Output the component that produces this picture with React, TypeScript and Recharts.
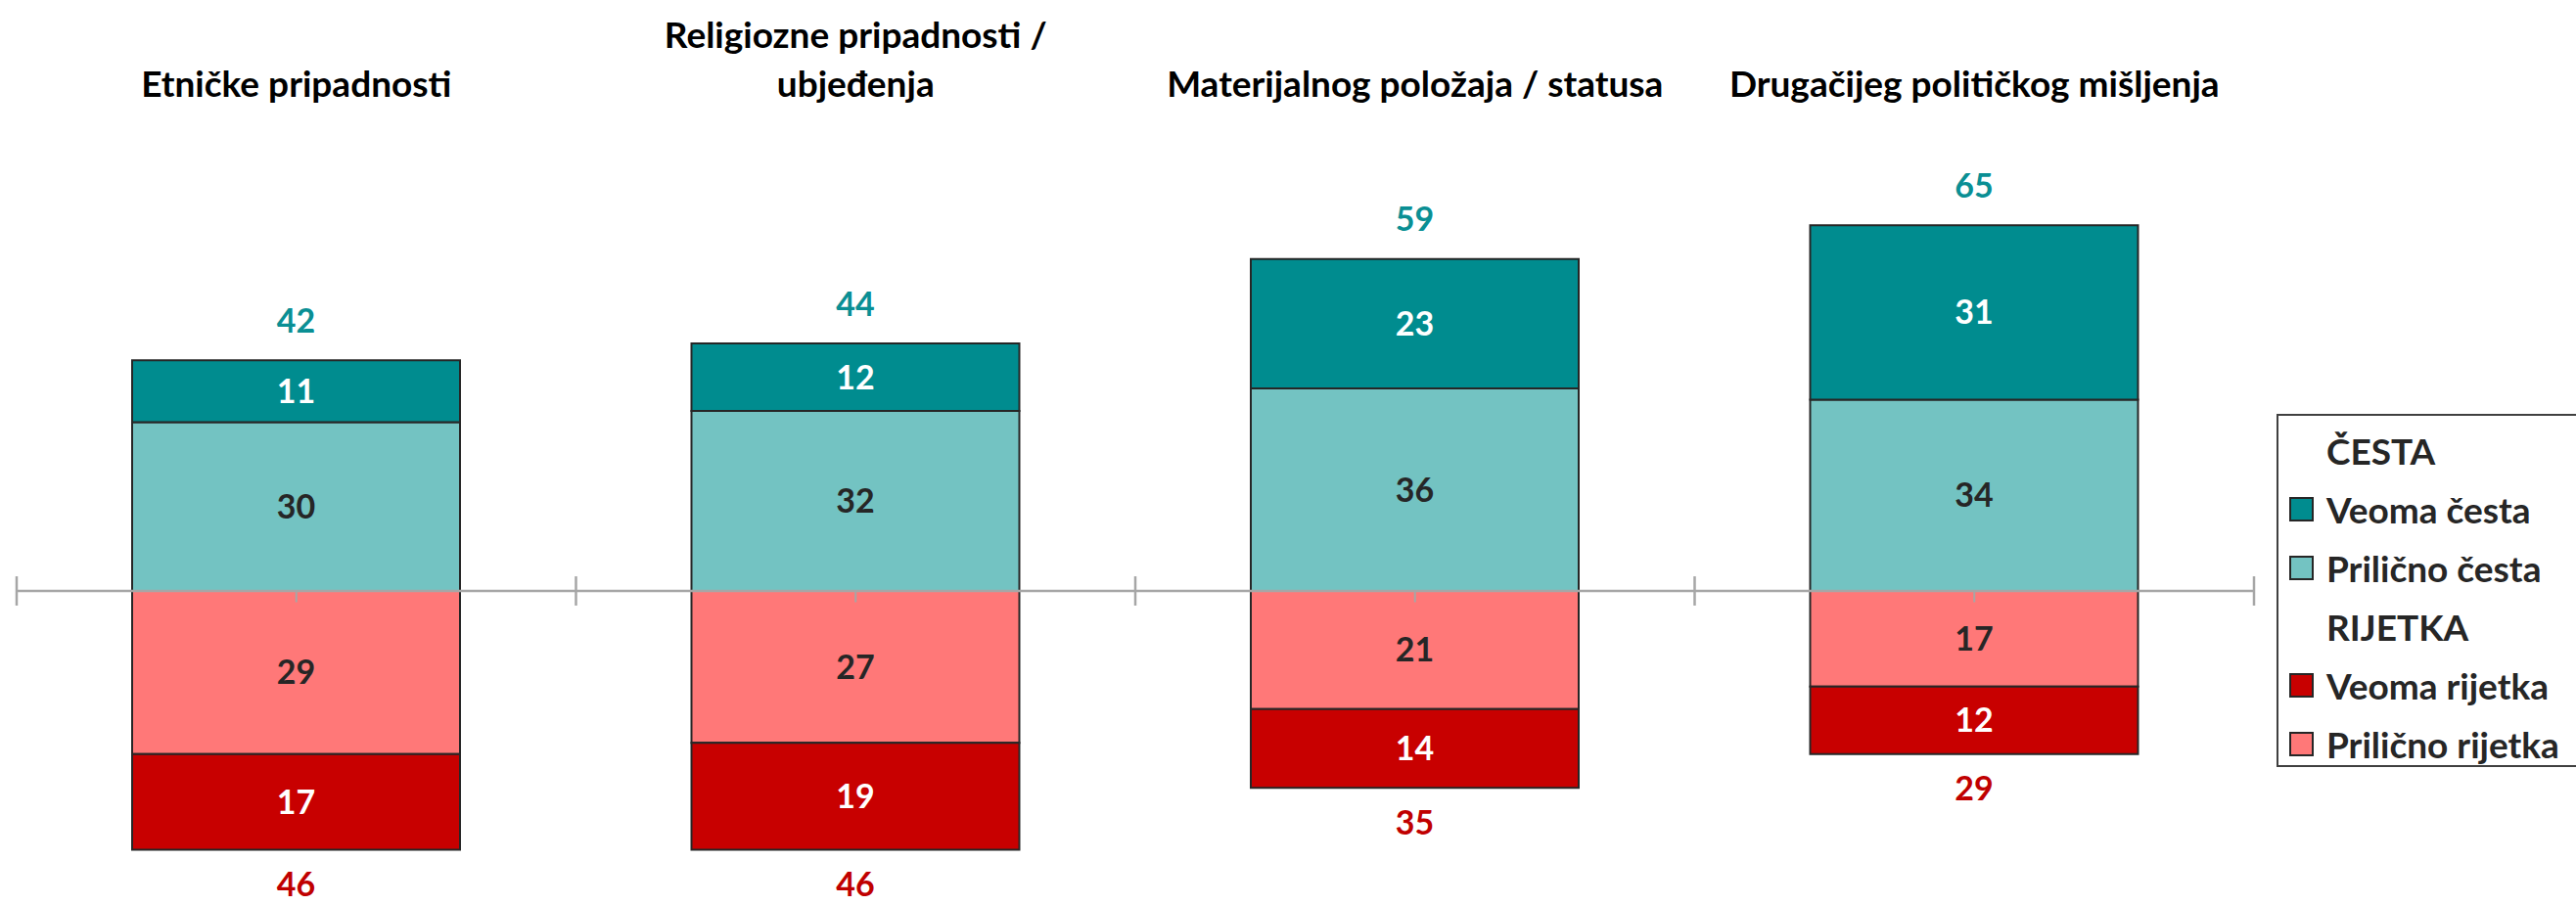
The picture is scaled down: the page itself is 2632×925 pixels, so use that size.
import React from 'react';
import {
    BarChart,
    Bar,
    XAxis,
    YAxis,
    ReferenceLine,
    LabelList,
    Legend,
} from 'recharts';

const categories = [
    'Etničke pripadnosti',
    'Religiozne pripadnosti / ubjeđenja',
    'Materijalnog položaja / statusa',
    'Drugačijeg političkog mišljenja',
];
const titleLines = [
    ['Etničke pripadnosti'],
    ['Religiozne pripadnosti /', 'ubjeđenja'],
    ['Materijalnog položaja / statusa'],
    ['Drugačijeg političkog mišljenja'],
];
const veomaCesta = [11, 12, 23, 31];
const prilicnoCesta = [30, 32, 36, 34];
const prilicnoRijetka = [29, 27, 21, 17];
const veomaRijetka = [17, 19, 14, 12];
const cestaTotals = [42, 44, 59, 65];
const rijetkaTotals = [46, 46, 35, 29];

const FONT = 'Lato, "Noto Sans", sans-serif';
const C_VEOMA_CESTA = '#008C8F';
const C_PRIL_CESTA = '#73C3C2';
const C_PRIL_RIJETKA = '#FF7878';
const C_VEOMA_RIJETKA = '#C80000';
const AXIS_GRAY = '#A6A6A6';
const DARK = '#262626';

const data = categories.map((name, i) => ({
    name,
    pos: i + 0.5,
    veomaCesta: veomaCesta[i],
    prilicnoCesta: prilicnoCesta[i],
    prilicnoRijetka: -prilicnoRijetka[i],
    veomaRijetka: -veomaRijetka[i],
    cestaTotal: cestaTotals[i],
    rijetkaTotal: rijetkaTotals[i],
}));

const boundaries = [0, 1, 2, 3, 4];
const centers = [0.5, 1.5, 2.5, 3.5];

const legendRows = [
    { label: 'ČESTA', header: true },
    { label: 'Veoma česta', color: C_VEOMA_CESTA },
    { label: 'Prilično česta', color: C_PRIL_CESTA },
    { label: 'RIJETKA', header: true },
    { label: 'Veoma rijetka', color: C_VEOMA_RIJETKA },
    { label: 'Prilično rijetka', color: C_PRIL_RIJETKA },
];

function TitleTick(props: any) {
    const { x, payload } = props;
    const lines = titleLines[Math.floor(payload.value)] || [];
    const lastY = 84;
    return (
        <g>
            {lines.map((line, k) => (
                <text
                    key={k}
                    x={x}
                    y={lastY - (lines.length - 1 - k) * 50}
                    textAnchor="middle"
                    dominantBaseline="central"
                    fontFamily={FONT}
                    fontWeight={700}
                    fontSize={37}
                    fill="#000"
                >
                    {line}
                </text>
            ))}
        </g>
    );
}

function totalLabel(color: string, above: boolean) {
    return (props: any) => {
        const box = props.viewBox || props;
        const { x, y, width, height } = box;
        const top = Math.min(y, y + height);
        const bottom = Math.max(y, y + height);
        return (
            <text
                x={x + width / 2}
                y={above ? top - 42 : bottom + 34}
                textAnchor="middle"
                dominantBaseline="central"
                fontFamily={FONT}
                fontWeight={700}
                fontSize={34}
                fill={color}
            >
                {props.value}
            </text>
        );
    };
}

function renderLegend() {
    return (
        <div
            style={{
                border: '2px solid #404040',
                width: 340,
                height: 361,
                boxSizing: 'border-box',
                paddingTop: 5,
                fontFamily: FONT,
                fontWeight: 700,
                fontSize: 37,
                color: DARK,
                background: '#fff',
            }}
        >
            {legendRows.map((r) => (
                <div
                    key={r.label}
                    style={{
                        height: 60,
                        display: 'flex',
                        alignItems: 'center',
                        position: 'relative',
                    }}
                >
                    {!r.header && (
                        <span
                            style={{
                                position: 'absolute',
                                left: 11,
                                width: 25,
                                height: 25,
                                boxSizing: 'border-box',
                                border: '2px solid #262626',
                                background: r.color,
                            }}
                        />
                    )}
                    <span style={{ position: 'absolute', left: 49, whiteSpace: 'nowrap' }}>
                        {r.label}
                    </span>
                </div>
            ))}
        </div>
    );
}

const innerLabelProps = {
    position: 'center' as const,
    fontFamily: FONT,
    fontWeight: 700,
    fontSize: 34,
    formatter: (v: any) => Math.abs(Number(v)),
};

export default function App() {
    return (
        <div
            style={{
                position: 'absolute',
                left: 0,
                top: 0,
                width: 2632,
                height: 925,
                overflow: 'hidden',
                background: '#fff',
            }}
        >
            <BarChart
                width={2632}
                height={925}
                data={data}
                stackOffset="sign"
                margin={{ top: 200.5, right: 329, bottom: 4.75, left: 17 }}
            >
                <XAxis
                    xAxisId="main"
                    dataKey="pos"
                    type="number"
                    domain={[0, 4]}
                    ticks={boundaries}
                    hide
                />
                <XAxis
                    xAxisId="top"
                    dataKey="pos"
                    type="number"
                    orientation="top"
                    domain={[0, 4]}
                    ticks={centers}
                    interval={0}
                    height={1}
                    axisLine={false}
                    tickLine={false}
                    tick={(p: any) => <TitleTick {...p} />}
                />
                <YAxis type="number" domain={[-55, 70]} allowDataOverflow hide />
                <Legend
                    layout="horizontal"
                    verticalAlign="middle"
                    align="center"
                    content={renderLegend}
                    wrapperStyle={{ left: 2326, top: 423, width: 340, height: 361 }}
                />
                <Bar
                    xAxisId="main"
                    dataKey="prilicnoCesta"
                    name="Prilično česta"
                    stackId="a"
                    barSize={335}
                    fill={C_PRIL_CESTA}
                    stroke={DARK}
                    strokeWidth={2}
                    isAnimationActive={false}
                >
                    <LabelList dataKey="prilicnoCesta" fill={DARK} {...innerLabelProps} />
                </Bar>
                <Bar
                    xAxisId="main"
                    dataKey="veomaCesta"
                    name="Veoma česta"
                    stackId="a"
                    barSize={335}
                    fill={C_VEOMA_CESTA}
                    stroke={DARK}
                    strokeWidth={2}
                    isAnimationActive={false}
                >
                    <LabelList dataKey="veomaCesta" fill="#fff" {...innerLabelProps} />
                    <LabelList dataKey="cestaTotal" content={totalLabel('#0A8F94', true)} />
                </Bar>
                <Bar
                    xAxisId="main"
                    dataKey="prilicnoRijetka"
                    name="Prilično rijetka"
                    stackId="a"
                    barSize={335}
                    fill={C_PRIL_RIJETKA}
                    stroke={DARK}
                    strokeWidth={2}
                    isAnimationActive={false}
                >
                    <LabelList dataKey="prilicnoRijetka" fill={DARK} {...innerLabelProps} />
                </Bar>
                <Bar
                    xAxisId="main"
                    dataKey="veomaRijetka"
                    name="Veoma rijetka"
                    stackId="a"
                    barSize={335}
                    fill={C_VEOMA_RIJETKA}
                    stroke={DARK}
                    strokeWidth={2}
                    isAnimationActive={false}
                >
                    <LabelList dataKey="veomaRijetka" fill="#fff" {...innerLabelProps} />
                    <LabelList dataKey="rijetkaTotal" content={totalLabel('#C00000', false)} />
                </Bar>
                <ReferenceLine xAxisId="main" y={0} stroke={AXIS_GRAY} strokeWidth={2.5} />
                {boundaries.map((b) => (
                    <ReferenceLine
                        key={'b' + b}
                        xAxisId="main"
                        segment={[
                            { x: b, y: -2.6 },
                            { x: b, y: 2.6 },
                        ]}
                        stroke={AXIS_GRAY}
                        strokeWidth={2.5}
                    />
                ))}
                {centers.map((c) => (
                    <ReferenceLine
                        key={'c' + c}
                        xAxisId="main"
                        segment={[
                            { x: c, y: 0 },
                            { x: c, y: -2 },
                        ]}
                        stroke={AXIS_GRAY}
                        strokeWidth={2}
                    />
                ))}
            </BarChart>
        </div>
    );
}
